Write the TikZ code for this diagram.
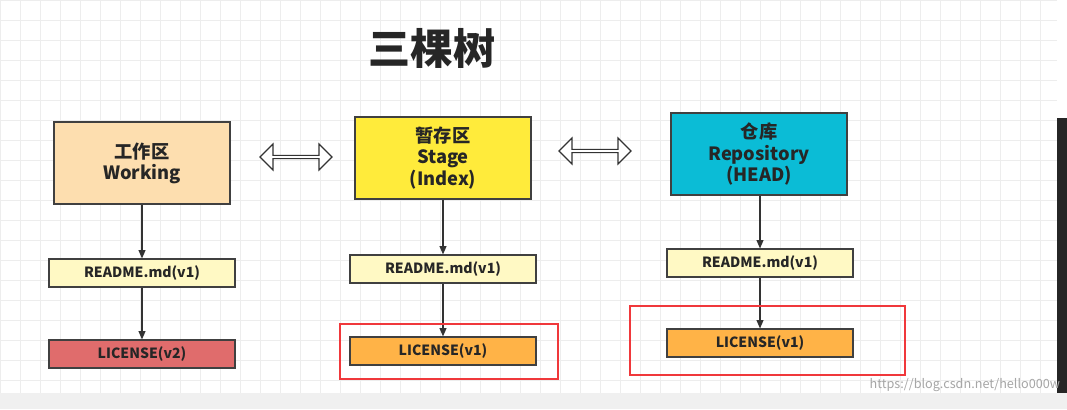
\documentclass[tikz,border=0pt]{standalone}
\usepackage{fontspec}
\setmainfont{Noto Sans CJK SC}
\usetikzlibrary{shapes.arrows,arrows.meta}
\definecolor{peach}{HTML}{FDDEAF}
\definecolor{stagey}{HTML}{FFEB3B}
\definecolor{repoc}{HTML}{0BBCD6}
\definecolor{filey}{HTML}{FFF9C4}
\definecolor{licv}{HTML}{FFB347}
\definecolor{licr}{HTML}{E06C6C}
\definecolor{mark}{HTML}{F0383B}
\tikzset{
  area/.style={draw=black!75, line width=0.8pt, minimum width=4.4cm, minimum height=2.05cm,
    align=center, font=\bfseries\fontsize{13}{15}\selectfont, text=black!85},
  file/.style={draw=black!75, line width=0.8pt, minimum width=4.65cm, minimum height=0.7cm,
    font=\bfseries\fontsize{10}{12}\selectfont, text=black!85},
  swap/.style={double arrow, draw=black!80, fill=white, line width=0.8pt,
    minimum height=1.8cm, minimum width=0.65cm, double arrow head extend=0.1cm, inner sep=0pt},
  flow/.style={-{Triangle[length=6pt,width=5pt]}, draw=black!80, line width=0.8pt},
  focus/.style={draw=mark, line width=1.2pt},
}
\begin{document}
\begin{tikzpicture}[x=0.025cm, y=-0.025cm]
\useasboundingbox (0,0) rectangle (1067,409);
\fill[white] (0,0) rectangle (1067,409);
\draw[black!7, step=0.5cm] (0,0) grid (1057,393);
\fill[black!85] (1057,118) rectangle (1067,393);
\fill[black!6] (0,393) rectangle (1067,409);
% title
\node[font=\bfseries\fontsize{30}{34}\selectfont, text=black!85] (title) at (432,48) {三棵树};
% three areas
\node[area, fill=peach] (work) at (142,163) {工作区\\Working};
\node[area, fill=stagey] (stage) at (443,158) {暂存区\\Stage\\(Index)};
\node[area, fill=repoc] (repo) at (759,154) {仓库\\Repository\\(HEAD)};
\node[swap] (sw1) at (296,157) {};
\node[swap] (sw2) at (595,151) {};
% files
\node[file, fill=filey] (wreadme) at (142,273) {README.md(v1)};
\node[file, fill=licr] (wlic) at (142,354) {LICENSE(v2)};
\node[file, fill=filey] (sreadme) at (443,269) {README.md(v1)};
\node[file, fill=licv] (slic) at (443,351) {LICENSE(v1)};
\node[file, fill=filey] (rreadme) at (760,263) {README.md(v1)};
\node[file, fill=licv] (rlic) at (760,343) {LICENSE(v1)};
\draw[flow] (work) -- (wreadme);
\draw[flow] (wreadme) -- (wlic);
\draw[flow] (stage) -- (sreadme);
\draw[flow] (sreadme) -- (slic);
\draw[flow] (repo.south -| rreadme) -- (rreadme);
\draw[flow] (rreadme) -- (rlic);
% highlights
\draw[focus] (340,324) rectangle (558,379);
\draw[focus] (630,306) rectangle (905,375);
\node[text=black!35, font=\fontsize{9}{10}\selectfont, anchor=east] (wm) at (1065,385) {https://blog.csdn.net/hello000w};
\end{tikzpicture}
\end{document}
